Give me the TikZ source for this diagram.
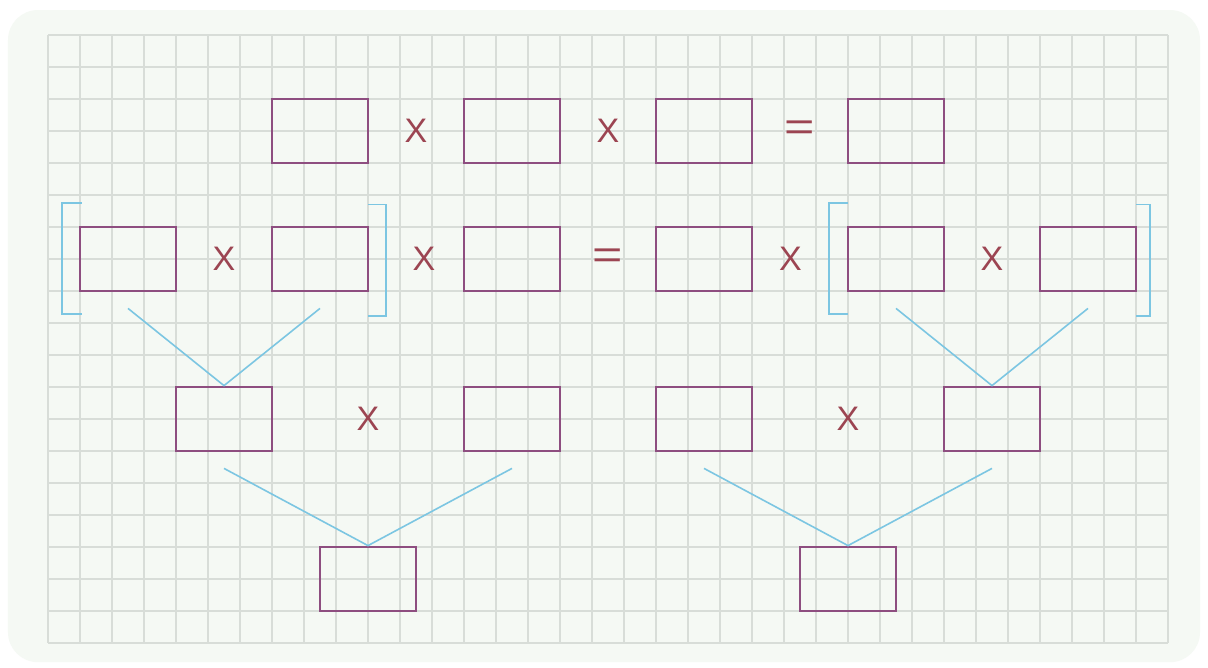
\documentclass[tikz,border=0pt]{standalone}
\usepackage{fontspec}
\setmainfont{Liberation Sans}
\usetikzlibrary{calc}
\definecolor{cardbg}{HTML}{F5F9F4}
\definecolor{gridc}{HTML}{D8DDD8}
\definecolor{boxc}{HTML}{8E4E80}
\definecolor{symc}{HTML}{9C4552}
\definecolor{linec}{HTML}{7CC6E2}
\tikzset{
  ansbox/.style={draw=boxc, line width=2.8pt, minimum width=96pt, minimum height=64pt, inner sep=0pt},
  sym/.style={text=symc, font=\fontsize{34}{38}\selectfont, inner sep=0pt},
  eqsym/.style={text=symc, font=\fontsize{40}{44}\selectfont, inner sep=0pt},
  link/.style={draw=linec, line width=1.6pt},
  brk/.style={draw=linec, line width=1.4pt},
  gridline/.style={draw=gridc, line width=1.3pt},
}
\begin{document}
\begin{tikzpicture}[x=32pt, y=-32pt]
\useasboundingbox (-1.5,-1.09375) rectangle (36.25,19.75);
\fill[white] (-1.5,-1.09375) rectangle (36.25,19.75);
\fill[cardbg, rounded corners=30pt] (-1.25,-0.78) rectangle (36,19.6);
\foreach \i in {0,...,35} { \draw[gridline] (\i,0) -- (\i,19); }
\foreach \j in {0,...,19} { \draw[gridline] (0,\j) -- (35,\j); }

% row 1
\node[ansbox] (a1) at (8.5,3) {};
\node[ansbox] (a2) at (14.5,3) {};
\node[ansbox] (a3) at (20.5,3) {};
\node[ansbox] (a4) at (26.5,3) {};
\node[sym] (ax1) at (11.5,3) {X};
\node[sym] (ax2) at (17.5,3) {X};
\node[eqsym] (aeq) at (23.5,3) {\scalebox{1.3}[1]{=}};

% row 2
\node[ansbox] (b1) at (2.5,7) {};
\node[ansbox] (b2) at (8.5,7) {};
\node[ansbox] (b3) at (14.5,7) {};
\node[ansbox] (b4) at (20.5,7) {};
\node[ansbox] (b5) at (26.5,7) {};
\node[ansbox] (b6) at (32.5,7) {};
\node[sym] (bx1) at (5.5,7) {X};
\node[sym] (bx2) at (11.75,7) {X};
\node[eqsym] (beq) at (17.5,7) {\scalebox{1.3}[1]{=}};
\node[sym] (bx3) at (23.2,7) {X};
\node[sym] (bx4) at (29.5,7) {X};

% brackets
\draw[brk] (1.06,5.25) -- (0.44,5.25) -- (0.44,8.72) -- (1.06,8.72);
\draw[brk] (10,5.3) -- (10.56,5.3) -- (10.56,8.78) -- (10,8.78);
\draw[brk] (25,5.25) -- (24.4,5.25) -- (24.4,8.72) -- (25,8.72);
\draw[brk] (34,5.3) -- (34.44,5.3) -- (34.44,8.78) -- (34,8.78);

% row 3
\node[ansbox] (c1) at (5.5,12) {};
\node[ansbox] (c2) at (14.5,12) {};
\node[ansbox] (c3) at (20.5,12) {};
\node[ansbox] (c4) at (29.5,12) {};
\node[sym] (cx1) at (10,12) {X};
\node[sym] (cx2) at (25,12) {X};

% row 4
\node[ansbox] (d1) at (10,17) {};
\node[ansbox] (d2) at (25,17) {};

% connector start points
\coordinate (pb1) at ($(b1.south)+(0,0.5)$);
\coordinate (pb2) at ($(b2.south)+(0,0.5)$);
\coordinate (pb5) at ($(b5.south)+(0,0.5)$);
\coordinate (pb6) at ($(b6.south)+(0,0.5)$);
\coordinate (pc1) at ($(c1.south)+(0,0.5)$);
\coordinate (pc2) at ($(c2.south)+(0,0.5)$);
\coordinate (pc3) at ($(c3.south)+(0,0.5)$);
\coordinate (pc4) at ($(c4.south)+(0,0.5)$);

\draw[link] (pb1) -- (c1.north) -- (pb2);
\draw[link] (pb5) -- (c4.north) -- (pb6);
\draw[link] (pc1) -- (d1.north) -- (pc2);
\draw[link] (pc3) -- (d2.north) -- (pc4);
\end{tikzpicture}
\end{document}
